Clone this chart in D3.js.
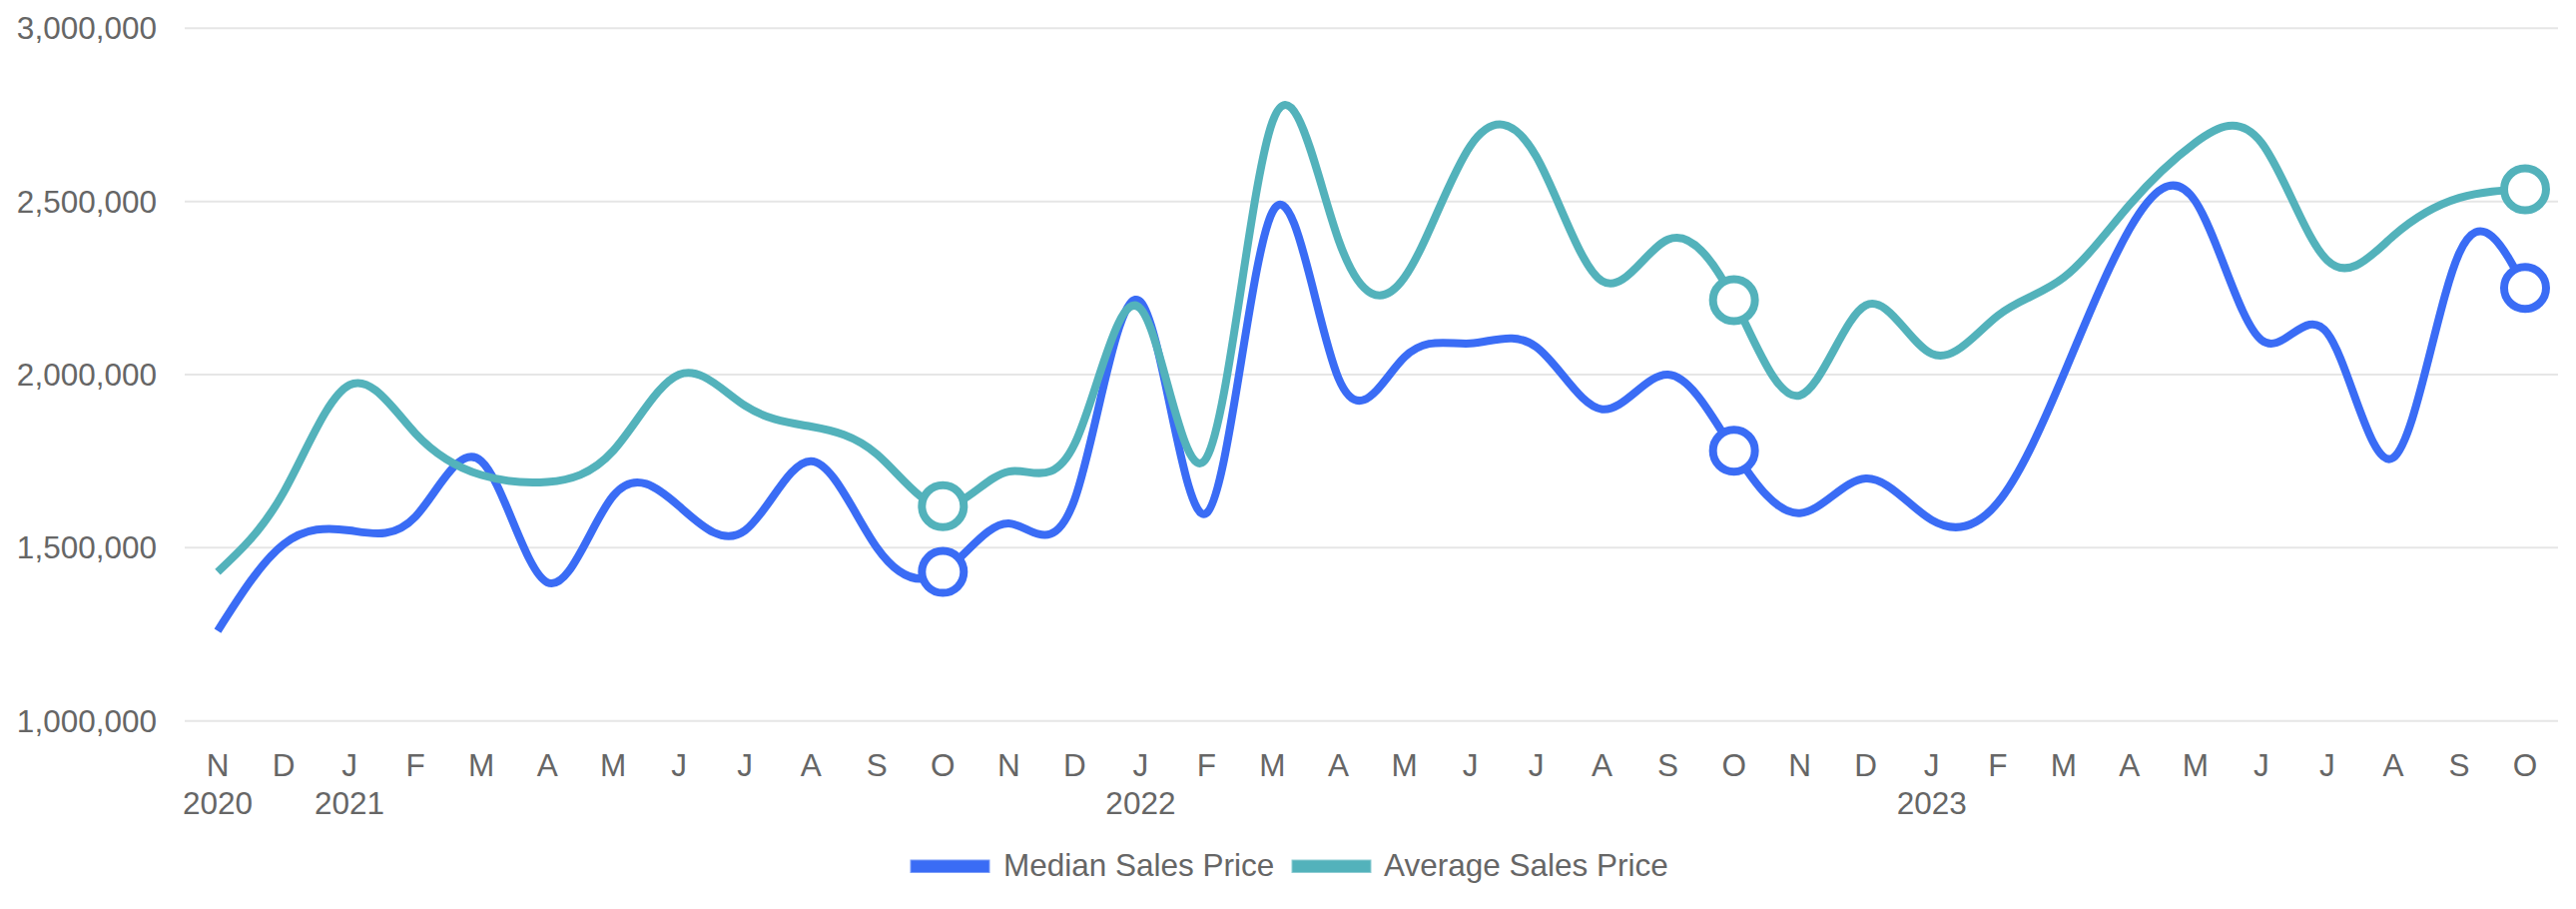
<!DOCTYPE html>
<html>
<head>
<meta charset="utf-8">
<script src="https://cdn.jsdelivr.net/npm/d3@7"></script>
<style>
  html, body { margin: 0; padding: 0; background: #fff; }
  svg { display: block; }
  text { font-family: "Liberation Sans", Arial, Helvetica, sans-serif; fill: #666; }
</style>
</head>
<body>
<svg id="chart" width="2580" height="910"></svg>
<script>
// ---- data ----
const months = ["N","D","J","F","M","A","M","J","J","A","S","O",
                "N","D","J","F","M","A","M","J","J","A","S","O",
                "N","D","J","F","M","A","M","J","J","A","S","O"];
const yearLabels = [[0,"2020"],[2,"2021"],[14,"2022"],[26,"2023"]];
const medianSales = [1260000,1510000,1550000,1590000,1750000,1400000,1650000,1620000,1550000,1750000,1500000,1430000,
                     1570000,1640000,2210000,1600000,2470000,1990000,2050000,2090000,2080000,1900000,2000000,1780000,
                     1600000,1700000,1580000,1630000,2000000,2420000,2500000,2100000,2120000,1760000,2350000,2250000];
const averageSales = [1430000,1660000,1970000,1830000,1710000,1690000,1780000,2000000,1910000,1850000,1770000,1620000,
                      1720000,1800000,2190000,1760000,2730000,2390000,2280000,2660000,2630000,2270000,2390000,2215000,
                      1940000,2200000,2060000,2170000,2280000,2490000,2670000,2670000,2330000,2400000,2510000,2535000];
const yTicks = [1000000,1500000,2000000,2500000,3000000];
const markerIdx = [11,23,35];
const seriesNames = ["Median Sales Price","Average Sales Price"];
const seriesColors = ["#3a6cf5","#53b2bb"];
const legendBorder = ["#7d9ef8","#8fcdd3"];

// ---- layout ----
const svg = d3.select("#chart");
const plot = {left:185, right:2562, top:28.3, bottom:721.7};

const x = d3.scaleBand().domain(d3.range(months.length)).range([plot.left, plot.right]).padding(0);
const cx = i => x(i) + x.bandwidth()/2;
const y = d3.scaleLinear().domain([1000000,3000000]).range([plot.bottom, plot.top]);

// grid
svg.append("g").selectAll("line").data(yTicks).join("line")
  .attr("x1", plot.left).attr("x2", plot.right)
  .attr("y1", d => y(d)).attr("y2", d => y(d))
  .attr("stroke", "#e6e6e6").attr("stroke-width", 2);

// y labels
const fmt = d3.format(",");
svg.append("g").selectAll("text").data(yTicks).join("text")
  .attr("x", 157).attr("y", d => y(d)).attr("dy", "0.35em")
  .attr("text-anchor", "end").attr("font-size", 31.5)
  .text(d => fmt(d));

// x labels
svg.append("g").selectAll("text").data(months).join("text")
  .attr("x", (d,i) => cx(i)).attr("y", 766).attr("dy", "0.35em")
  .attr("text-anchor", "middle").attr("font-size", 31.5)
  .text(d => d);
svg.append("g").selectAll("text").data(yearLabels).join("text")
  .attr("x", d => cx(d[0])).attr("y", 804).attr("dy", "0.35em")
  .attr("text-anchor", "middle").attr("font-size", 31.5)
  .text(d => d[1]);

// lines
const line = d3.line().x((d,i) => cx(i)).y(d => y(d)).curve(d3.curveNatural);
const seriesData = [medianSales, averageSales];
seriesData.forEach((s, k) => {
  svg.append("path").datum(s)
    .attr("d", line)
    .attr("fill", "none")
    .attr("stroke", seriesColors[k])
    .attr("stroke-width", 8)
    .attr("stroke-linejoin", "round");
});
seriesData.forEach((s, k) => {
  svg.append("g").selectAll("circle").data(markerIdx).join("circle")
    .attr("cx", i => cx(i)).attr("cy", i => y(s[i]))
    .attr("r", 21)
    .attr("fill", "#fff")
    .attr("stroke", seriesColors[k])
    .attr("stroke-width", 8);
});

// legend
const legendItems = [
  {sx:912, tx:1005},
  {sx:1294, tx:1386}
];
legendItems.forEach((it, k) => {
  svg.append("rect").attr("x", it.sx).attr("y", 861).attr("width", 79).attr("height", 12.5)
    .attr("fill", seriesColors[k]).attr("stroke", legendBorder[k]).attr("stroke-width", 1);
  svg.append("text").attr("x", it.tx).attr("y", 866).attr("dy", "0.35em")
    .attr("font-size", 31.5).text(seriesNames[k]);
});
</script>
</body>
</html>
